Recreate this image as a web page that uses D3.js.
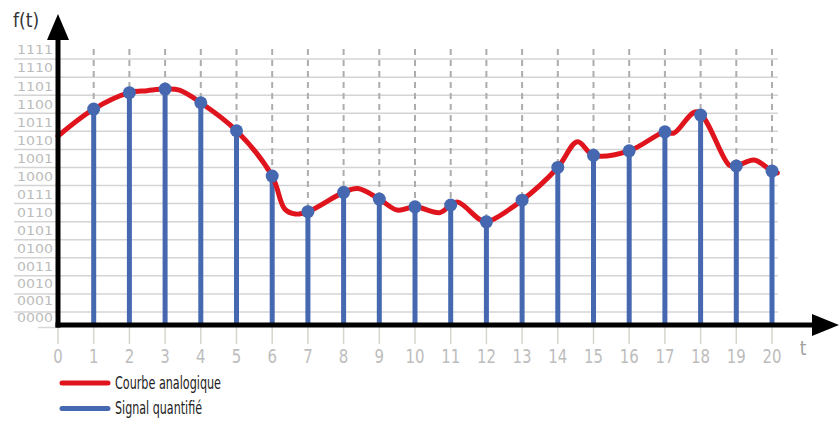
<!DOCTYPE html>
<html lang="fr">
  <head>
    <meta charset="UTF-8" />
    <script src="https://cdn.jsdelivr.net/npm/d3@7"></script>
    <style>
      * {
        margin: 0;
        padding: 0;
      }
      body {
        background: #fff;
      }
      #container svg {
        display: block;
      }
    </style>
    <title>Signal quantifié</title>
  </head>
  <body>
    <div id="container"></div>
  </body>
  <script>
    // quantization levels (y labels)
    const levelLabels = [
      '0000', '0001', '0010', '0011', '0100', '0101', '0110', '0111',
      '1000', '1001', '1010', '1011', '1100', '1101', '1110', '1111',
    ];
    // x tick labels
    const timeLabels = [0, 1, 2, 3, 4, 5, 6, 7, 8, 9, 10, 11, 12, 13, 14, 15, 16, 17, 18, 19, 20];

    // sampled (quantified) signal, one value per sample t = 1..20
    const sampleTimes = [1, 2, 3, 4, 5, 6, 7, 8, 9, 10, 11, 12, 13, 14, 15, 16, 17, 18, 19, 20];
    const sampleValues = [
      12.23, 13.14, 13.34, 12.58, 11.03, 8.52, 6.55, 7.62, 7.25, 6.82,
      6.92, 5.99, 7.19, 9.0, 9.67, 9.92, 10.97, 11.9, 9.08, 8.8,
    ];

    // analog curve, read point by point
    const curveTimes = [
      0, 1, 2, 2.5, 3, 3.4, 4, 5, 6, 6.35, 6.65, 7, 8, 8.4, 9, 9.5, 10,
      10.7, 11, 11.2, 11.8, 12, 13, 14, 14.55, 15, 16, 17, 17.25, 17.9,
      18.8, 19, 19.5, 20, 20.15,
    ];
    const curveValues = [
      10.74, 12.23, 13.14, 13.25, 13.34, 13.28, 12.58, 11.03, 8.52, 6.7,
      6.42, 6.55, 7.62, 7.83, 7.25, 6.64, 6.82, 6.5, 6.92, 7.08, 6.14,
      5.99, 7.19, 9.0, 10.42, 9.67, 9.92, 10.97, 10.9, 12.08, 9.13, 9.08,
      9.41, 8.8, 8.7,
    ];

    const legendItems = ['Courbe analogique', 'Signal quantifié'];

    const width = 840;
    const height = 421;
    const red = '#e0141c';
    const blue = '#4568b1';
    const narrow =
      "'Liberation Sans Narrow', 'DejaVu Sans Condensed', 'Open Sans', sans-serif";

    const x = d3.scaleLinear().domain([0, 20]).range([58, 772]);
    const y = d3.scaleLinear().domain([0, 16]).range([330, 41]);
    const axisY = 325;

    const svg = d3
      .select('#container')
      .append('svg')
      .attr('width', width)
      .attr('height', height);

    // horizontal grid lines (level boundaries)
    svg
      .append('g')
      .selectAll('line')
      .data(d3.range(1, levelLabels.length))
      .join('line')
      .attr('x1', 14)
      .attr('x2', 778)
      .attr('y1', (d) => y(d))
      .attr('y2', (d) => y(d))
      .attr('stroke', '#d4d4d4')
      .attr('stroke-width', 1.5);

    // vertical dashed grid lines
    svg
      .append('g')
      .selectAll('line')
      .data(timeLabels.slice(1))
      .join('line')
      .attr('x1', (d) => x(d))
      .attr('x2', (d) => x(d))
      .attr('y1', 49)
      .attr('y2', axisY)
      .attr('stroke', '#adadad')
      .attr('stroke-width', 2)
      .attr('stroke-dasharray', '6,5');

    // y labels, centred in each level band
    svg
      .append('g')
      .selectAll('text')
      .data(levelLabels)
      .join('text')
      .attr('x', 53)
      .attr('y', (d, i) => y(i + 0.5) - (i < 4 ? 3 - i : 0))
      .attr('dy', '0.35em')
      .attr('text-anchor', 'end')
      .attr('font-family', narrow)
      .attr('font-size', 12.5)
      .attr('textLength', 36)
      .attr('lengthAdjust', 'spacingAndGlyphs')
      .attr('fill', '#bcbcbc')
      .text((d) => d);

    // small ticks under the x axis
    svg
      .append('g')
      .selectAll('line')
      .data(timeLabels)
      .join('line')
      .attr('x1', (d) => x(d))
      .attr('x2', (d) => x(d))
      .attr('y1', axisY)
      .attr('y2', 344)
      .attr('stroke', '#d6d6cc')
      .attr('stroke-width', 1.5);

    svg
      .append('line')
      .attr('x1', 38)
      .attr('x2', 58)
      .attr('y1', 327.5)
      .attr('y2', 327.5)
      .attr('stroke', '#d8d8d8')
      .attr('stroke-width', 1.5);

    // x labels
    svg
      .append('g')
      .selectAll('text')
      .data(timeLabels)
      .join('text')
      .attr('x', (d) => x(d))
      .attr('y', 363)
      .attr('text-anchor', 'middle')
      .attr('font-family', narrow)
      .attr('font-size', 20)
      .attr('textLength', (d) => String(d).length * 9.5)
      .attr('lengthAdjust', 'spacingAndGlyphs')
      .attr('fill', '#bdbdbd')
      .text((d) => d);

    // stems
    const samples = sampleTimes.map((t, i) => ({ t, v: sampleValues[i] }));
    svg
      .append('g')
      .selectAll('line')
      .data(samples)
      .join('line')
      .attr('x1', (d) => x(d.t))
      .attr('x2', (d) => x(d.t))
      .attr('y1', (d) => y(d.v))
      .attr('y2', axisY)
      .attr('stroke', blue)
      .attr('stroke-width', 5);

    // analog curve
    const curvePts = curveTimes.map((t, i) => [t, curveValues[i]]);
    svg
      .append('path')
      .datum(curvePts)
      .attr('fill', 'none')
      .attr('stroke', red)
      .attr('stroke-width', 5)
      .attr('stroke-linecap', 'round')
      .attr(
        'd',
        d3
          .line()
          .x((d) => x(d[0]))
          .y((d) => y(d[1]))
          .curve(d3.curveCatmullRom.alpha(0.5))
      );

    // sample dots
    svg
      .append('g')
      .selectAll('circle')
      .data(samples)
      .join('circle')
      .attr('cx', (d) => x(d.t))
      .attr('cy', (d) => y(d.v))
      .attr('r', 6.5)
      .attr('fill', blue);

    // axes with arrows
    svg
      .append('line')
      .attr('x1', 58)
      .attr('x2', 58)
      .attr('y1', axisY + 2.5)
      .attr('y2', 36)
      .attr('stroke', '#000')
      .attr('stroke-width', 5);
    svg
      .append('path')
      .attr('d', 'M58,14 L47,40 L69,40 Z')
      .attr('fill', '#000');

    svg
      .append('line')
      .attr('x1', 55.5)
      .attr('x2', 816)
      .attr('y1', axisY)
      .attr('y2', axisY)
      .attr('stroke', '#000')
      .attr('stroke-width', 5);
    svg
      .append('path')
      .attr('d', 'M839,325 L812,314 L812,336 Z')
      .attr('fill', '#000');

    // axis titles
    svg
      .append('text')
      .attr('x', 13)
      .attr('y', 27)
      .attr('font-family', narrow)
      .attr('font-size', 19)
      .attr('fill', '#333')
      .text('f(t)');

    svg
      .append('text')
      .attr('x', 803)
      .attr('y', 355)
      .attr('text-anchor', 'middle')
      .attr('font-family', narrow)
      .attr('font-size', 19)
      .attr('fill', '#a0a0a0')
      .text('t');

    // legend
    const legend = svg
      .append('g')
      .selectAll('g')
      .data(legendItems)
      .join('g')
      .attr('transform', (d, i) => `translate(62, ${383 + i * 25.5})`);

    legend
      .append('line')
      .attr('x1', 0)
      .attr('x2', 46)
      .attr('stroke', (d, i) => (i === 0 ? red : blue))
      .attr('stroke-width', 5)
      .attr('stroke-linecap', 'round');

    legend
      .append('text')
      .attr('x', 53)
      .attr('y', 0)
      .attr('dy', '0.32em')
      .attr('font-family', narrow)
      .attr('font-size', 18.5)
      .attr('textLength', (d, i) => (i === 0 ? 106 : 87))
      .attr('lengthAdjust', 'spacingAndGlyphs')
      .attr('fill', '#222')
      .text((d) => d);
  </script>
</html>
